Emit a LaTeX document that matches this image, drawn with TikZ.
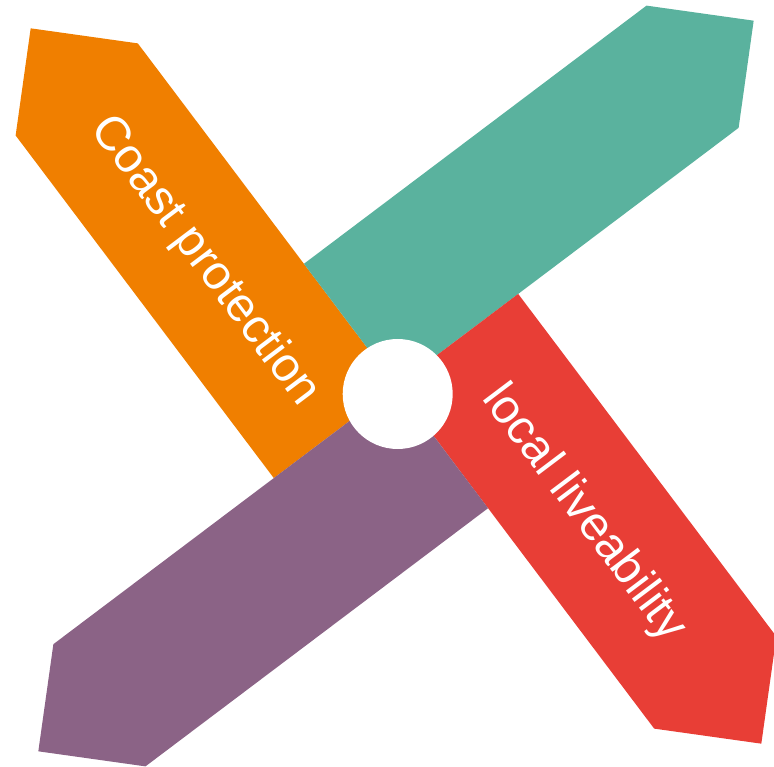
\documentclass[tikz,border=0pt]{standalone}
\usepackage{fontspec}
\usepackage{tikz}
\newfontfamily\bandfont{Liberation Sans}
\definecolor{bandorange}{HTML}{F07F00}
\definecolor{bandteal}{HTML}{5AB29E}
\definecolor{bandred}{HTML}{E83E36}
\definecolor{bandpurple}{HTML}{8B6386}

\begin{document}
\begin{tikzpicture}[x=1pt,y=1pt,
  band/.style={draw=none},
  lbl/.style={text=white,inner sep=0pt,rotate=-53,
              font=\bandfont\fontsize{48}{52}\selectfont},
  hub/.style={circle,fill=white,draw=none,minimum size=110pt,inner sep=0pt}
]
\useasboundingbox (0,0) rectangle (774,-767);
\clip (0,0) rectangle (774,-767);
\coordinate (c) at (396,-386);

% four blades, each turned a quarter further
\begin{scope}[shift={(c)},rotate=127]
\fill[band,bandorange] (0,0) -- (429,0) -- (505.5,76.5) -- (429,153) -- (0,153) -- cycle;
\node[lbl] (coast) at (215,78) {Coast protection};
\end{scope}
\begin{scope}[shift={(c)},rotate=37]
\fill[band,bandteal] (0,0) -- (429,0) -- (505.5,76.5) -- (429,153) -- (0,153) -- cycle;
\end{scope}
\begin{scope}[shift={(c)},rotate=-53]
\fill[band,bandred] (0,0) -- (429,0) -- (505.5,76.5) -- (429,153) -- (0,153) -- cycle;
\node[lbl] (live) at (215,73) {local liveability};
\end{scope}
\begin{scope}[shift={(c)},rotate=217]
\fill[band,bandpurple] (0,0) -- (429,0) -- (505.5,76.5) -- (429,153) -- (0,153) -- cycle;
\end{scope}

\node[hub] (hole) at (397.7,-394) {};
\end{tikzpicture}
\end{document}
